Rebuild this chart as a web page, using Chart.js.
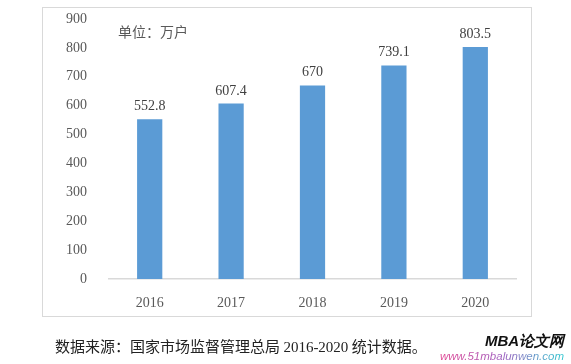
<!DOCTYPE html>
<html>
<head>
<meta charset="utf-8">
<script src="https://cdn.jsdelivr.net/npm/chart.js@4"></script>
<style>
  body { margin: 0; background: #fff; width: 571px; height: 364px; position: relative; overflow: hidden; }
  #frame { position: absolute; left: 42px; top: 7px; width: 490px; height: 310px; border: 1.5px solid #d9d9d9; box-sizing: border-box; }
  #wrap { position: absolute; left: 0; top: 0; width: 571px; height: 364px; }
  #caption { position: absolute; left: 55px; top: 335px; font: 15px "Noto Sans CJK SC", sans-serif; color: #222; white-space: nowrap; }
  #caption .num { font-family: "Liberation Serif", serif; }
  #mark1 { position: absolute; left: 485px; top: 333px; font: italic bold 15px "Liberation Sans", Arial, sans-serif; color: #111; white-space: nowrap; line-height: 16px; }
  #mark2 { position: absolute; left: 440px; top: 350px; font: italic 11.5px "Liberation Sans", Arial, sans-serif; white-space: nowrap; line-height: 12px;
    background: linear-gradient(90deg, #e0408f, #a060c0 50%, #30c8d0); -webkit-background-clip: text; background-clip: text; color: transparent; }
</style>
</head>
<body>
<div id="frame"></div>
<div id="wrap"><canvas id="chart" width="571" height="364"></canvas></div>
<div id="caption">数据来源：国家市场监督管理总局 <span class="num">2016-2020</span> 统计数据。</div>
<div id="mark1">MBA论文网</div>
<div id="mark2">www.51mbalunwen.com</div>
<script>
const years = ["2016", "2017", "2018", "2019", "2020"];
const households = [552.8, 607.4, 670, 739.1, 803.5];
const yMax = 900;
const yStep = 100;
const unitText = "单位：万户";

const serif = "'Liberation Serif', 'Times New Roman', serif";

// value above each bar + unit note in the top-left corner
const valueLabels = {
  id: "valueLabels",
  afterDatasetsDraw(chart) {
    const ctx = chart.ctx;
    const meta = chart.getDatasetMeta(0);
    ctx.save();
    ctx.font = "14px " + serif;
    ctx.fillStyle = "#404040";
    ctx.textAlign = "center";
    ctx.textBaseline = "alphabetic";
    meta.data.forEach((bar, i) => {
      ctx.fillText(String(households[i]), bar.x, bar.y - 9);
    });
    ctx.font = "14px 'Noto Sans CJK SC', sans-serif";
    ctx.fillStyle = "#595959";
    ctx.textAlign = "left";
    ctx.textBaseline = "middle";
    ctx.fillText(unitText, 118, 32);
    ctx.restore();
  },
};

new Chart(document.getElementById("chart"), {
  type: "bar",
  data: {
    labels: years,
    datasets: [{ data: households, backgroundColor: "#5b9bd5", barPercentage: 0.31, categoryPercentage: 1 }],
  },
  options: {
    responsive: false,
    animation: false,
    layout: { padding: { left: 0, right: 55, top: 19, bottom: 55 } },
    plugins: { legend: { display: false }, tooltip: { enabled: false } },
    scales: {
      x: {
        grid: { display: false },
        border: { color: "#d9d9d9", width: 1.5 },
        ticks: { color: "#595959", font: { family: serif, size: 14 }, padding: 8 },
        afterFit: (s) => { s.height = 30; s.paddingLeft = 0; s.paddingRight = 0; },
      },
      y: {
        min: 0,
        max: yMax,
        grid: { display: false },
        border: { display: false },
        ticks: { stepSize: yStep, color: "#595959", font: { family: serif, size: 14 }, padding: 14 },
        afterFit: (s) => { s.width = 109; s.paddingTop = 0; s.paddingBottom = 0; },
      },
    },
  },
  plugins: [valueLabels],
});
</script>
</body>
</html>
